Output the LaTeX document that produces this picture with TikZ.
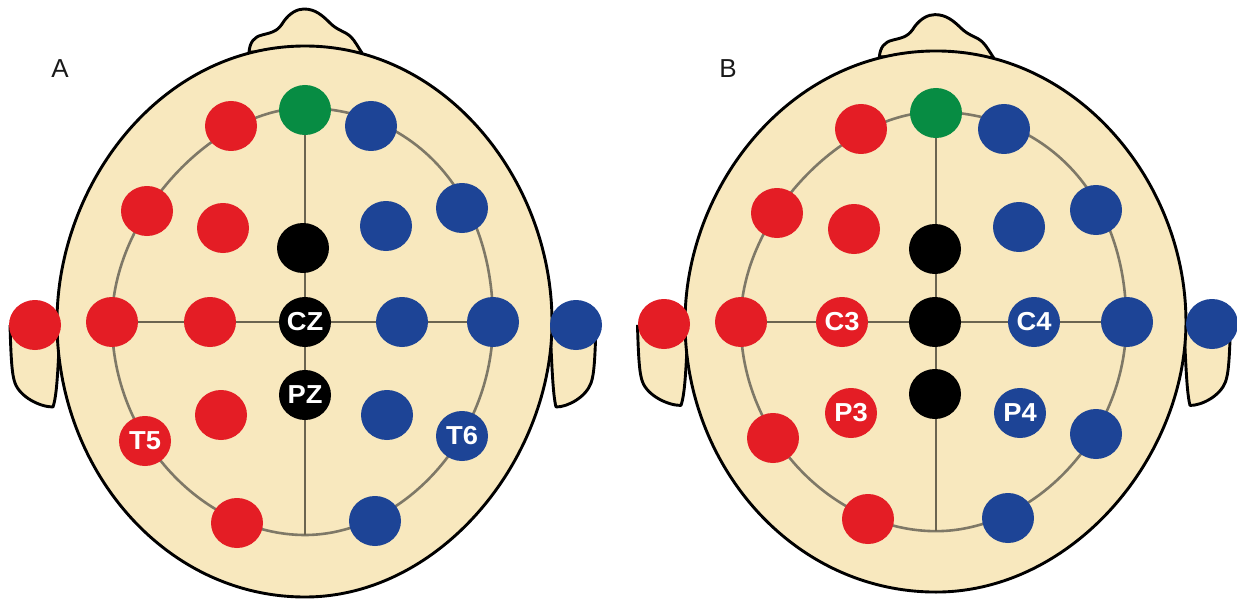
\documentclass[tikz,border=0pt]{standalone}
\usepackage{fontspec}
\setmainfont{Liberation Sans}
\usetikzlibrary{shapes.geometric,backgrounds}
\definecolor{skin}{HTML}{F8E8BE}
\definecolor{ered}{HTML}{E41D25}
\definecolor{eblue}{HTML}{1D4496}
\definecolor{egreen}{HTML}{078C43}
\definecolor{ringgray}{HTML}{7E7867}
\definecolor{axisgray}{HTML}{6B6450}
\tikzset{
  elec/.style={ellipse,inner sep=0pt,minimum width=52pt,minimum height=50pt,text=white,
    font=\fontsize{26}{26}\selectfont\bfseries},
  redE/.style={elec,fill=ered},
  blueE/.style={elec,fill=eblue},
  greenE/.style={elec,fill=egreen},
  blackE/.style={elec,fill=black},
  outline/.style={draw=black,line width=2.9pt,line join=round},
  skinfill/.style={fill=skin},
  ring/.style={draw=ringgray,line width=2.6pt},
  axis/.style={draw=axisgray,line width=2.4pt},
  panel/.style={font=\fontsize{26}{26}\selectfont,text=black!90}
}
% Ears, nose, scalp and the circumferential electrode line of one head
\newcommand{\headshape}{%
  \fill[skinfill] (10,325) .. controls (11,360) and (12,375) .. (15,383)
    .. controls (20,397) and (40,407) .. (53,407)
    .. controls (57,395) and (58,370) .. (60,325) -- cycle;
  \draw[outline] (10,325) .. controls (11,360) and (12,375) .. (15,383)
    .. controls (20,397) and (40,407) .. (53,407)
    .. controls (57,395) and (58,370) .. (60,325);
  \fill[skinfill] (596,325) .. controls (595,360) and (594,375) .. (591,383)
    .. controls (586,397) and (568,407) .. (556,407)
    .. controls (553,395) and (552,370) .. (550,325) -- cycle;
  \draw[outline] (596,325) .. controls (595,360) and (594,375) .. (591,383)
    .. controls (586,397) and (568,407) .. (556,407)
    .. controls (553,395) and (552,370) .. (550,325);
  \filldraw[outline,skinfill] (249,52) .. controls (250,42) and (254,37) .. (262,35)
    .. controls (274,32) and (278,31) .. (284,21)
    .. controls (290,13) and (297,9) .. (304,9)
    .. controls (315,9) and (322,15) .. (330,23)
    .. controls (338,31) and (345,31) .. (351,37)
    .. controls (355,41) and (358,47) .. (362,53) -- cycle;
  \filldraw[outline,skinfill] (305,46) .. controls (160,46) and (57,185) .. (57,322)
    .. controls (57,470) and (165,597) .. (305,597)
    .. controls (440,597) and (552,460) .. (552,322)
    .. controls (552,180) and (445,46) .. (305,46) -- cycle;
  \draw[ring] (305,108) .. controls (215,108) and (112,215) .. (112,322)
    .. controls (112,440) and (205,535) .. (305,535)
    .. controls (400,535) and (493,440) .. (493,322)
    .. controls (493,190) and (410,108) .. (305,108) -- cycle;
}
\begin{document}
\begin{tikzpicture}[x=1pt,y=-1pt]
\useasboundingbox (0,0) rectangle (1237,599);

% Left head: temporal and parietal sites labelled
\node[redE]   (a1)  at (231,126) {};
\node[greenE] (afz) at (305,110) {};
\node[blueE]  (a2)  at (371,126) {};
\node[redE]   (a3)  at (147,211) {};
\node[redE]   (a4)  at (223,228) {};
\node[blackE] (a5)  at (303,248) {};
\node[blueE]  (a6)  at (386,226) {};
\node[blueE]  (a7)  at (462,208) {};
\node[redE]   (a8)  at (35,325) {};
\node[redE]   (a9)  at (112,322) {};
\node[redE]   (a10) at (210,322) {};
\node[blackE] (acz) at (305,322) {\scalebox{1.05}[1]{CZ}};
\node[blueE]  (a11) at (402,322) {};
\node[blueE]  (a12) at (493,322) {};
\node[blueE]  (a13) at (576,325) {};
\node[blackE] (apz) at (305,395) {\scalebox{1.05}[1]{PZ}};
\node[redE]   (a14) at (221,415) {};
\node[blueE]  (a15) at (387,415) {};
\node[redE]   (at5) at (145,441) {\scalebox{1.05}[1]{T5}};
\node[blueE]  (at6) at (462,436) {\scalebox{1.05}[1]{T6}};
\node[redE]   (a16) at (237,523) {};
\node[blueE]  (a17) at (375,521) {};
\coordinate   (abot) at (305,535);
\node[panel]  (la) at (60,69) {A};

% Right head: central and parietal sites labelled
\node[redE]   (b1)  at (861,129) {};
\node[greenE] (bfz) at (936,113) {};
\node[blueE]  (b2)  at (1004,129) {};
\node[redE]   (b3)  at (777,213) {};
\node[redE]   (b4)  at (854,229) {};
\node[blackE] (b5)  at (935,249) {};
\node[blueE]  (b6)  at (1019,227) {};
\node[blueE]  (b7)  at (1096,210) {};
\node[redE]   (b8)  at (664,324) {};
\node[redE]   (b9)  at (741,322) {};
\node[redE]   (bc3) at (842,322) {\scalebox{1.05}[1]{C3}};
\node[blackE] (bcz) at (935,322) {};
\node[blueE]  (bc4) at (1034,322) {\scalebox{1.05}[1]{C4}};
\node[blueE]  (b12) at (1127,322) {};
\node[blueE]  (b13) at (1212,324) {};
\node[blackE] (bpz) at (935,394) {};
\node[redE]   (bp3) at (851,413) {\scalebox{1.05}[1]{P3}};
\node[blueE]  (bp4) at (1020,413) {\scalebox{1.05}[1]{P4}};
\node[redE]   (b14) at (773,438) {};
\node[blueE]  (b15) at (1096,434) {};
\node[redE]   (b16) at (868,519) {};
\node[blueE]  (b17) at (1008,518) {};
\coordinate   (bbot) at (936,531);
\node[panel]  (lb) at (728,69) {B};

\begin{scope}[on background layer]
  \headshape
  \draw[axis] (afz.center) -- (abot);
  \draw[axis] (a9.center) -- (a12.center);
  \begin{scope}[shift={(936,322)},xscale=1.012,yscale=.982,shift={(-305,-322)}]
    \headshape
  \end{scope}
  \draw[axis] (bfz.center) -- (bbot);
  \draw[axis] (b9.center) -- (b12.center);
\end{scope}
\end{tikzpicture}
\end{document}
